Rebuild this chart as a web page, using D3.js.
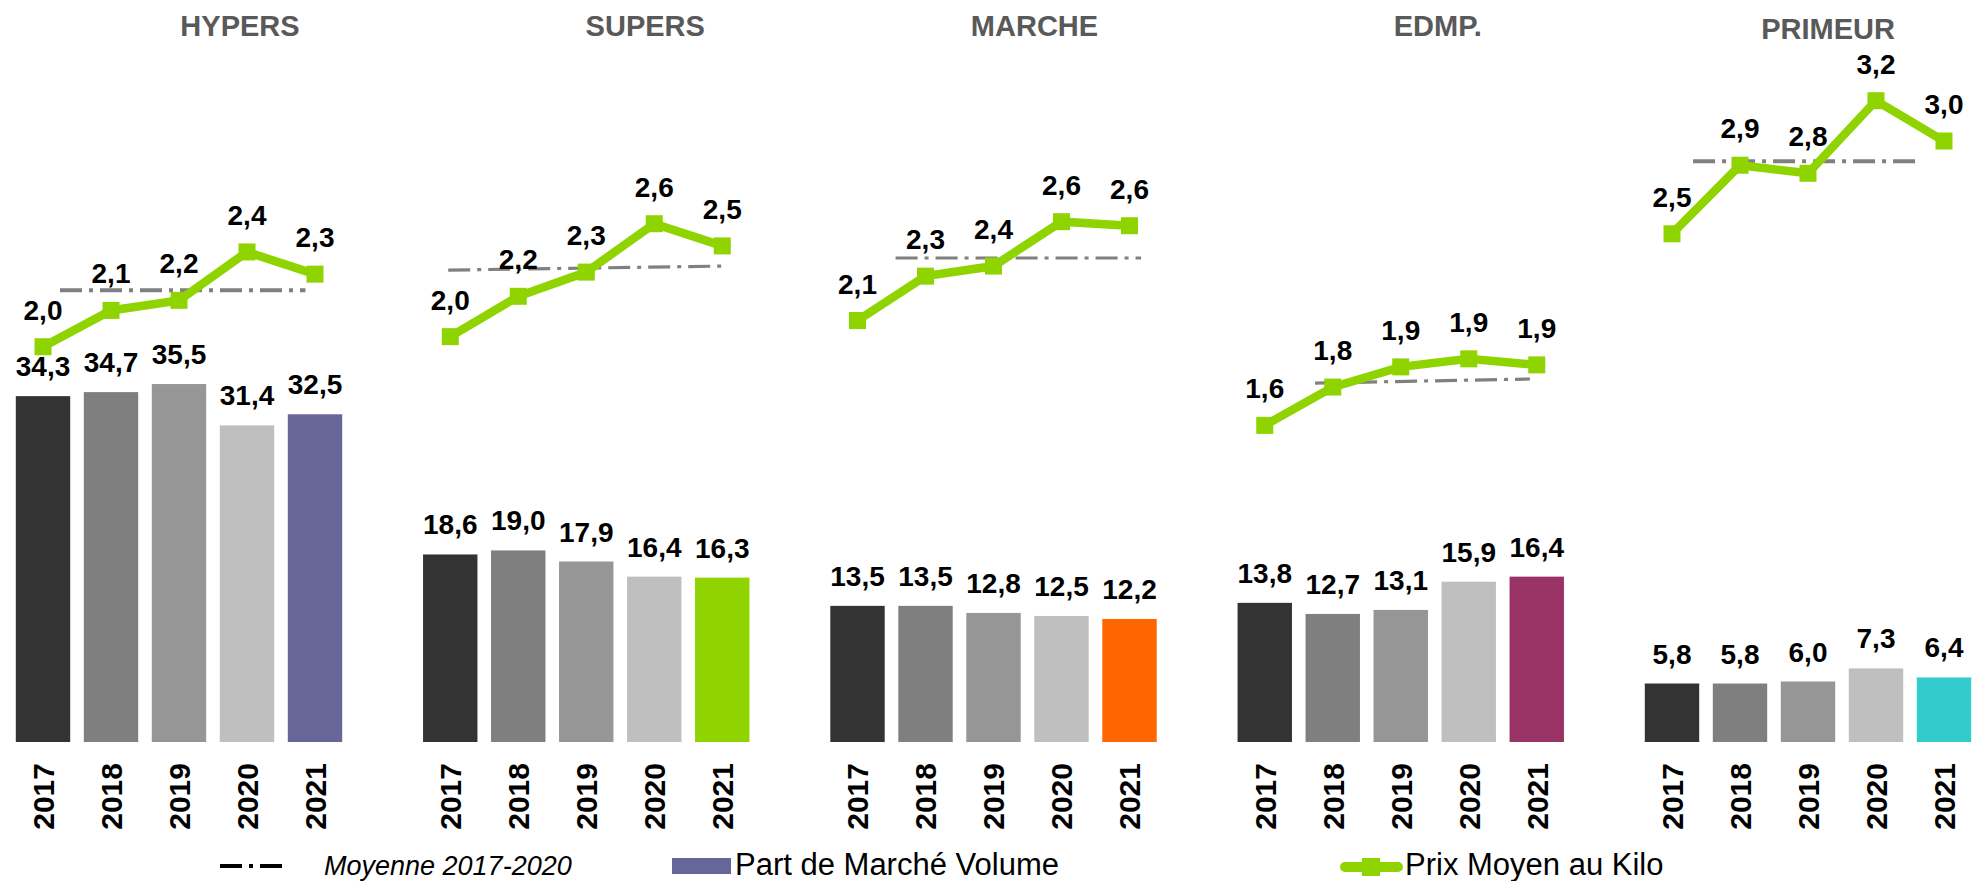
<!DOCTYPE html>
<html>
<head>
<meta charset="utf-8">
<script src="https://cdn.jsdelivr.net/npm/d3@7"></script>
<style>
  html, body { margin: 0; padding: 0; background: #fff; }
  text { font-family: "Liberation Sans", Arial, sans-serif; }
</style>
</head>
<body>
<div id="chart-container"></div>
<script>
// Part de marché volume (bars) + prix moyen au kilo (green line) per circuit
const categories = ["HYPERS", "SUPERS", "MARCHE", "EDMP.", "PRIMEUR"];
const years = ["2017", "2018", "2019", "2020", "2021"];

// Part de Marché Volume
const volHypers = [34.3, 34.7, 35.5, 31.4, 32.5];
const volSupers = [18.6, 19.0, 17.9, 16.4, 16.3];
const volMarche = [13.5, 13.5, 12.8, 12.5, 12.2];
const volEdmp = [13.8, 12.7, 13.1, 15.9, 16.4];
const volPrimeur = [5.8, 5.8, 6.0, 7.3, 6.4];

// Prix Moyen au Kilo
const prixHypers = [1.96, 2.14, 2.19, 2.43, 2.32];
const prixSupers = [2.01, 2.21, 2.33, 2.57, 2.46];
const prixMarche = [2.09, 2.31, 2.36, 2.58, 2.56];
const prixEdmp = [1.57, 1.76, 1.86, 1.9, 1.87];
const prixPrimeur = [2.52, 2.86, 2.82, 3.18, 2.98];

// Moyenne 2017-2020 (start / end value of the dash-dot line)
const moyenneStart = [2.24, 2.34, 2.4, 1.78, 2.88];
const moyenneEnd = [2.24, 2.36, 2.4, 1.8, 2.88];
// extent of the dash-dot line, in year index units
const moyenneFrom = [0.25, -0.03, 0.56, 0.74, 0.31];
const moyenneTo = [3.86, 4.01, 4.17, 3.9, 3.65];

const volumes = [volHypers, volSupers, volMarche, volEdmp, volPrimeur];
const prix = [prixHypers, prixSupers, prixMarche, prixEdmp, prixPrimeur];

// styling
const yearColors = ["#333333", "#7f7f7f", "#969696", "#bfbfbf"];
const highlightColors = ["#666699", "#8fd400", "#ff6600", "#993366", "#33cccc"];
const green = "#8fd400";
const titleShift = [[61, 36], [59, 36], [41, 36], [37, 36], [20, 39]];
const meanWidth = [4, 3.2, 3.2, 3.2, 4];

const width = 1978;
const height = 881;
const baseY = 742;
const plotH = 605;

const svg = d3
  .select("#chart-container")
  .append("svg")
  .attr("width", width)
  .attr("height", height);

const panelX = d3.scalePoint().domain(categories).range([9, 9 + 4 * 407.25]);
const xYear = d3
  .scaleBand()
  .domain(years)
  .range([0, 340])
  .paddingInner(0.2)
  .paddingOuter(0.1);
const yBar = d3.scaleLinear().domain([0, 60]).range([baseY, baseY - plotH]);
const yPrix = d3.scaleLinear().domain([0, 3]).range([baseY, baseY - plotH]);
const xIndex = d3
  .scaleLinear()
  .domain([0, 4])
  .range([xYear(years[0]) + xYear.bandwidth() / 2, xYear(years[4]) + xYear.bandwidth() / 2]);

const fmt = v => d3.format(".1f")(v).replace(".", ",");
const cx = y => xYear(y) + xYear.bandwidth() / 2;

const rows = categories.map((c, i) => ({
  cat: c,
  idx: i,
  values: years.map((y, j) => ({ year: y, vol: volumes[i][j], prix: prix[i][j] }))
}));

const panel = svg
  .selectAll(".panel")
  .data(rows)
  .enter()
  .append("g")
  .attr("class", "panel")
  .attr("transform", d => `translate(${panelX(d.cat)},0)`);

// titles
panel
  .append("text")
  .attr("x", d => 170 + titleShift[d.idx][0])
  .attr("y", d => titleShift[d.idx][1])
  .attr("text-anchor", "middle")
  .attr("font-size", "29px")
  .attr("font-weight", "bold")
  .attr("fill", "#595959")
  .text(d => d.cat);

// bars
panel
  .selectAll(".bar")
  .data(d => d.values.map((v, j) => ({ ...v, j, idx: d.idx })))
  .enter()
  .append("rect")
  .attr("class", "bar")
  .attr("x", d => xYear(d.year))
  .attr("width", xYear.bandwidth())
  .attr("y", d => yBar(d.vol))
  .attr("height", d => baseY - yBar(d.vol))
  .attr("fill", d => (d.j < 4 ? yearColors[d.j] : highlightColors[d.idx]));

panel
  .selectAll(".bar-label")
  .data(d => d.values)
  .enter()
  .append("text")
  .attr("class", "bar-label")
  .attr("x", d => cx(d.year))
  .attr("y", d => yBar(d.vol) - 20)
  .attr("text-anchor", "middle")
  .attr("font-size", "28px")
  .attr("font-weight", "bold")
  .attr("fill", "#000")
  .text(d => fmt(d.vol));

// year labels, rotated
panel
  .selectAll(".year")
  .data(years)
  .enter()
  .append("text")
  .attr("class", "year")
  .attr("transform", d => `translate(${cx(d)},${baseY + 21})rotate(-90)`)
  .attr("dy", "0.36em")
  .attr("text-anchor", "end")
  .attr("font-size", "30px")
  .attr("font-weight", "bold")
  .attr("fill", "#000")
  .text(d => d);

// moyenne 2017-2020
panel
  .append("line")
  .attr("x1", d => xIndex(moyenneFrom[d.idx]))
  .attr("x2", d => xIndex(moyenneTo[d.idx]))
  .attr("y1", d => yPrix(moyenneStart[d.idx]))
  .attr("y2", d => yPrix(moyenneEnd[d.idx]))
  .attr("stroke", "#808080")
  .attr("stroke-width", d => meanWidth[d.idx])
  .attr("stroke-dasharray", "22,7,4,7");

// prix moyen line + square markers
const line = d3
  .line()
  .x(d => cx(d.year))
  .y(d => yPrix(d.prix));

panel
  .append("path")
  .attr("d", d => line(d.values))
  .attr("fill", "none")
  .attr("stroke", green)
  .attr("stroke-width", 8.5);

panel
  .selectAll(".marker")
  .data(d => d.values)
  .enter()
  .append("rect")
  .attr("class", "marker")
  .attr("x", d => cx(d.year) - 8.5)
  .attr("y", d => yPrix(d.prix) - 8.5)
  .attr("width", 17)
  .attr("height", 17)
  .attr("fill", green);

panel
  .selectAll(".prix-label")
  .data(d => d.values)
  .enter()
  .append("text")
  .attr("class", "prix-label")
  .attr("x", d => cx(d.year))
  .attr("y", d => yPrix(d.prix) - 27)
  .attr("text-anchor", "middle")
  .attr("font-size", "28px")
  .attr("font-weight", "bold")
  .attr("fill", "#000")
  .text(d => fmt(d.prix));

// legend
const legend = svg.append("g").attr("class", "legend");

legend
  .append("line")
  .attr("x1", 220)
  .attr("x2", 284)
  .attr("y1", 866)
  .attr("y2", 866)
  .attr("stroke", "#000")
  .attr("stroke-width", 4)
  .attr("stroke-dasharray", "22,7,4,7");

legend
  .append("text")
  .attr("x", 324)
  .attr("y", 875)
  .attr("font-size", "27px")
  .attr("font-style", "italic")
  .text("Moyenne 2017-2020");

legend
  .append("rect")
  .attr("x", 672)
  .attr("y", 858)
  .attr("width", 59)
  .attr("height", 16)
  .attr("fill", highlightColors[0]);

legend
  .append("text")
  .attr("x", 735)
  .attr("y", 875)
  .attr("font-size", "31px")
  .text("Part de Marché Volume");

legend
  .append("line")
  .attr("x1", 1345)
  .attr("x2", 1398)
  .attr("y1", 867)
  .attr("y2", 867)
  .attr("stroke", green)
  .attr("stroke-width", 10)
  .attr("stroke-linecap", "round");

legend
  .append("rect")
  .attr("x", 1362)
  .attr("y", 858)
  .attr("width", 18)
  .attr("height", 18)
  .attr("fill", green);

legend
  .append("text")
  .attr("x", 1405)
  .attr("y", 875)
  .attr("font-size", "31px")
  .text("Prix Moyen au Kilo");
</script>
</body>
</html>
